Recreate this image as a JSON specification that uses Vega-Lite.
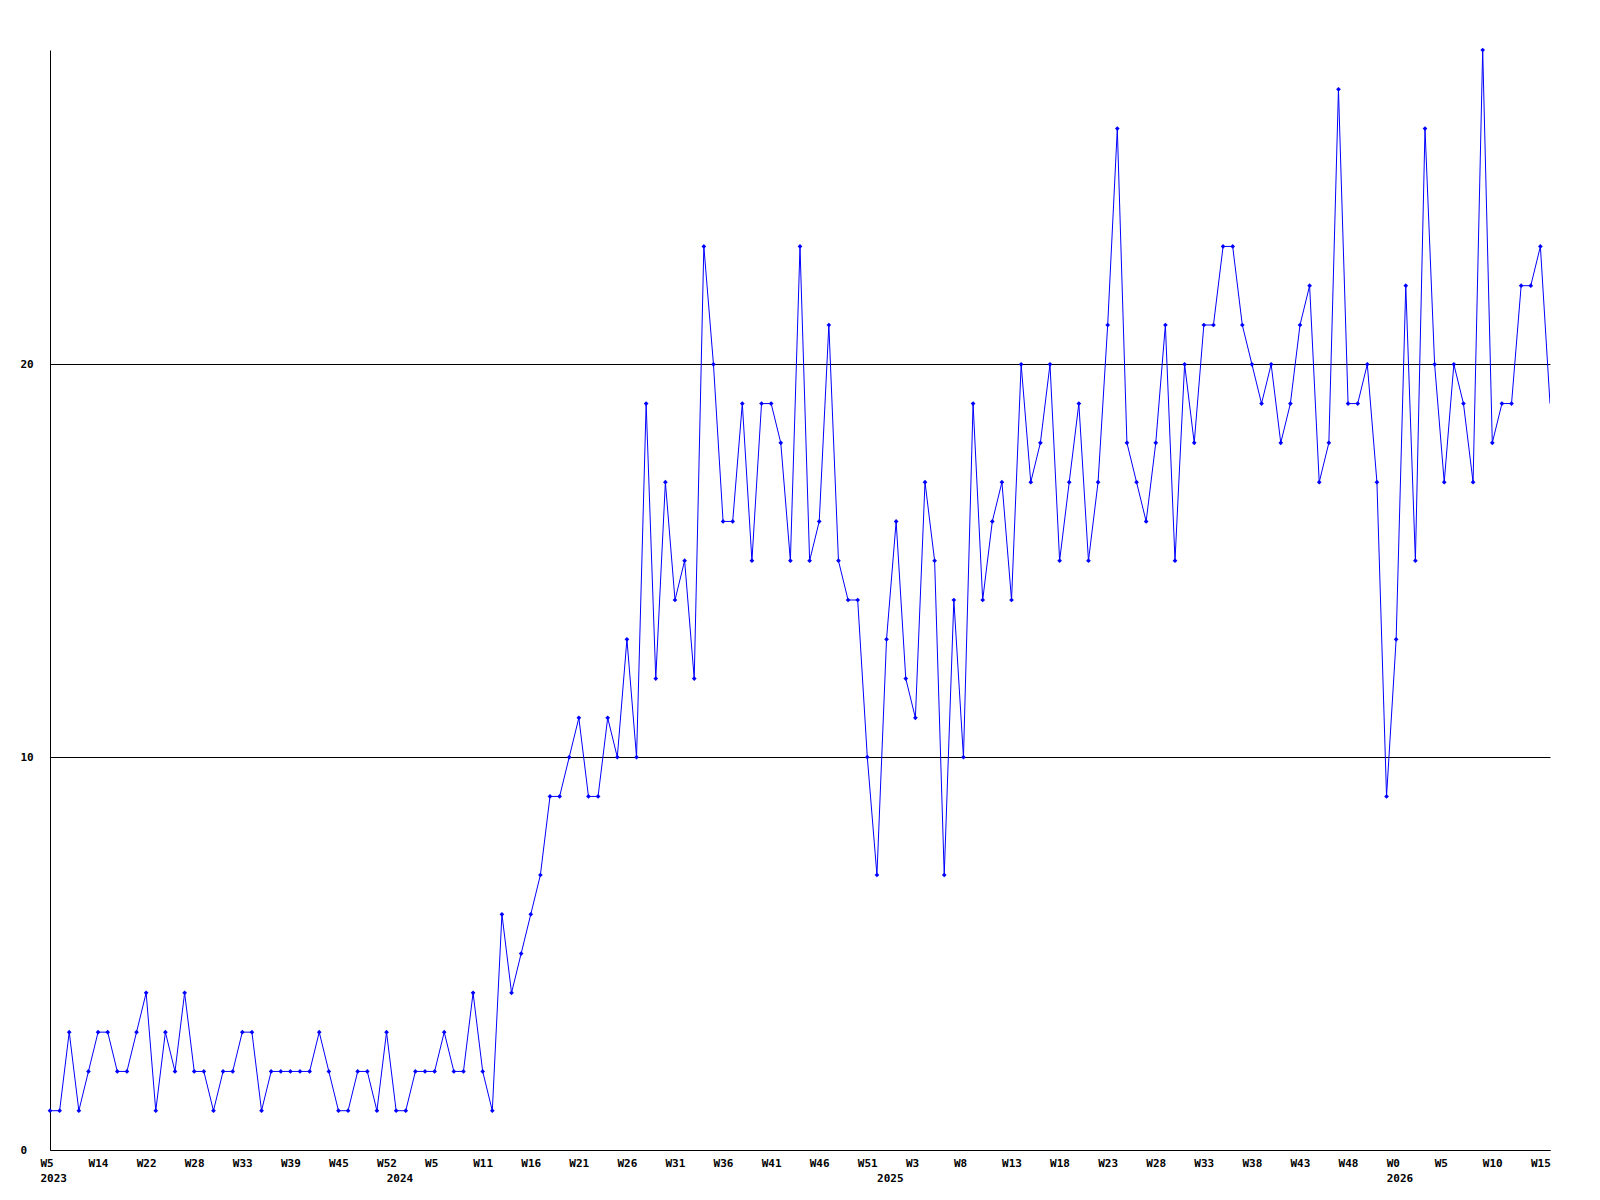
{
  "$schema": "https://vega.github.io/schema/vega-lite/v6.json",
  "autosize": "none",
  "width": 1500,
  "height": 1100,
  "padding": {"left": 50, "top": 50, "right": 50, "bottom": 50},
  "background": "white",
  "config": {"view": {"stroke": null}},
  "data": {"values": [
    {"i":0,"v":1},{"i":1,"v":1},{"i":2,"v":3},{"i":3,"v":1},{"i":4,"v":2},{"i":5,"v":3},{"i":6,"v":3},{"i":7,"v":2},{"i":8,"v":2},{"i":9,"v":3},
    {"i":10,"v":4},{"i":11,"v":1},{"i":12,"v":3},{"i":13,"v":2},{"i":14,"v":4},{"i":15,"v":2},{"i":16,"v":2},{"i":17,"v":1},{"i":18,"v":2},{"i":19,"v":2},
    {"i":20,"v":3},{"i":21,"v":3},{"i":22,"v":1},{"i":23,"v":2},{"i":24,"v":2},{"i":25,"v":2},{"i":26,"v":2},{"i":27,"v":2},{"i":28,"v":3},{"i":29,"v":2},
    {"i":30,"v":1},{"i":31,"v":1},{"i":32,"v":2},{"i":33,"v":2},{"i":34,"v":1},{"i":35,"v":3},{"i":36,"v":1},{"i":37,"v":1},{"i":38,"v":2},{"i":39,"v":2},
    {"i":40,"v":2},{"i":41,"v":3},{"i":42,"v":2},{"i":43,"v":2},{"i":44,"v":4},{"i":45,"v":2},{"i":46,"v":1},{"i":47,"v":6},{"i":48,"v":4},{"i":49,"v":5},
    {"i":50,"v":6},{"i":51,"v":7},{"i":52,"v":9},{"i":53,"v":9},{"i":54,"v":10},{"i":55,"v":11},{"i":56,"v":9},{"i":57,"v":9},{"i":58,"v":11},{"i":59,"v":10},
    {"i":60,"v":13},{"i":61,"v":10},{"i":62,"v":19},{"i":63,"v":12},{"i":64,"v":17},{"i":65,"v":14},{"i":66,"v":15},{"i":67,"v":12},{"i":68,"v":23},{"i":69,"v":20},
    {"i":70,"v":16},{"i":71,"v":16},{"i":72,"v":19},{"i":73,"v":15},{"i":74,"v":19},{"i":75,"v":19},{"i":76,"v":18},{"i":77,"v":15},{"i":78,"v":23},{"i":79,"v":15},
    {"i":80,"v":16},{"i":81,"v":21},{"i":82,"v":15},{"i":83,"v":14},{"i":84,"v":14},{"i":85,"v":10},{"i":86,"v":7},{"i":87,"v":13},{"i":88,"v":16},{"i":89,"v":12},
    {"i":90,"v":11},{"i":91,"v":17},{"i":92,"v":15},{"i":93,"v":7},{"i":94,"v":14},{"i":95,"v":10},{"i":96,"v":19},{"i":97,"v":14},{"i":98,"v":16},{"i":99,"v":17},
    {"i":100,"v":14},{"i":101,"v":20},{"i":102,"v":17},{"i":103,"v":18},{"i":104,"v":20},{"i":105,"v":15},{"i":106,"v":17},{"i":107,"v":19},{"i":108,"v":15},{"i":109,"v":17},
    {"i":110,"v":21},{"i":111,"v":26},{"i":112,"v":18},{"i":113,"v":17},{"i":114,"v":16},{"i":115,"v":18},{"i":116,"v":21},{"i":117,"v":15},{"i":118,"v":20},{"i":119,"v":18},
    {"i":120,"v":21},{"i":121,"v":21},{"i":122,"v":23},{"i":123,"v":23},{"i":124,"v":21},{"i":125,"v":20},{"i":126,"v":19},{"i":127,"v":20},{"i":128,"v":18},{"i":129,"v":19},
    {"i":130,"v":21},{"i":131,"v":22},{"i":132,"v":17},{"i":133,"v":18},{"i":134,"v":27},{"i":135,"v":19},{"i":136,"v":19},{"i":137,"v":20},{"i":138,"v":17},{"i":139,"v":9},
    {"i":140,"v":13},{"i":141,"v":22},{"i":142,"v":15},{"i":143,"v":26},{"i":144,"v":20},{"i":145,"v":17},{"i":146,"v":20},{"i":147,"v":19},{"i":148,"v":17},{"i":149,"v":28},
    {"i":150,"v":18},{"i":151,"v":19},{"i":152,"v":19},{"i":153,"v":22},{"i":154,"v":22},{"i":155,"v":23},{"i":156,"v":19}
  ]},
  "encoding": {
    "x": {
      "field": "i", "type": "quantitative",
      "scale": {"domain": [0, 156], "nice": false, "zero": false},
      "axis": {
        "title": null,
        "grid": false,
        "ticks": false,
        "tickSize": 0,
        "domainColor": "black",
        "domainWidth": 1,
        "values": [0,5,10,15,20,25,30,35,40,45,50,55,60,65,70,75,80,85,90,95,100,105,110,115,120,125,130,135,140,145,150,155,36,87],
        "labelExpr": "[datum.value % 5 == 0 ? ['W5','W14','W22','W28','W33','W39','W45','W52','W5','W11','W16','W21','W26','W31','W36','W41','W46','W51','W3','W8','W13','W18','W23','W28','W33','W38','W43','W48','W0','W5','W10','W15'][datum.value / 5] : '', datum.value == 0 ? '2023' : datum.value == 36 ? '2024' : datum.value == 87 ? '2025' : datum.value == 140 ? '2026' : '']",
        "labelAlign": "left",
        "labelOffset": -10,
        "labelBaseline": "top",
        "labelPadding": 7,
        "labelLineHeight": 15,
        "labelOverlap": false,
        "labelFlush": false,
        "labelFont": "DejaVu Sans Mono",
        "labelFontWeight": "bold",
        "labelFontSize": 11,
        "labelColor": "black"
      }
    },
    "y": {
      "field": "v", "type": "quantitative",
      "scale": {"domain": [0, 28], "nice": false, "zero": true},
      "axis": {
        "title": null,
        "values": [0, 10, 20],
        "grid": true,
        "gridColor": "black",
        "gridWidth": 1,
        "gridOpacity": 1,
        "ticks": false,
        "tickSize": 0,
        "domainColor": "black",
        "domainWidth": 1,
        "labelAlign": "left",
        "labelPadding": 30,
        "labelBaseline": "middle",
        "labelFont": "DejaVu Sans Mono",
        "labelFontWeight": "bold",
        "labelFontSize": 11,
        "labelColor": "black",
        "labelOverlap": false
      }
    }
  },
  "layer": [
    {"mark": {"type": "line", "color": "#0000ff", "strokeWidth": 1, "clip": true}},
    {
      "transform": [{"filter": "datum.i < 156"}],
      "mark": {"type": "point", "shape": "diamond", "filled": true, "color": "#0000ff", "size": 22, "opacity": 1}
    }
  ]
}
